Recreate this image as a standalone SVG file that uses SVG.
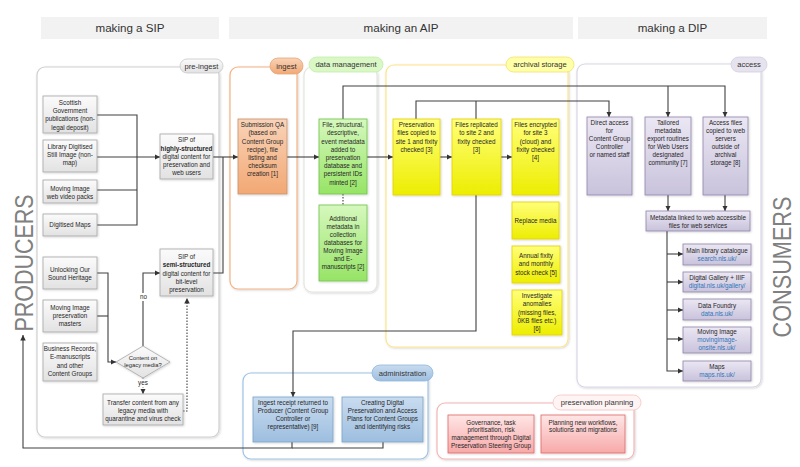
<svg xmlns="http://www.w3.org/2000/svg" width="800" height="467" viewBox="0 0 800 467">
<style>
text{font-family:"Liberation Sans",Arial,sans-serif;fill:#262626}
.t{font-size:6.3px;text-anchor:middle}
.b{font-weight:bold}
.lnk{fill:#2e75b6}
.lab{font-size:7.6px;text-anchor:middle;fill:#333}
.hd{font-size:11.6px;text-anchor:middle;fill:#333}
.big{font-size:25px;text-anchor:middle;fill:#808080}
.hbar{fill:#f2f2f2}
.cont{fill:#fff;stroke-width:1.2;filter:url(#sh)}
.c{fill:none;stroke:#404040;stroke-width:1.1}
.d{stroke-dasharray:1.5,1.5}
.g{fill:url(#gG);stroke:#a6a6a6;stroke-width:0.8;filter:url(#sh)}
.o{fill:url(#gO);stroke:#c9916b;stroke-width:0.8;filter:url(#sh)}
.gr{fill:url(#gGr);stroke:#6fc24a;stroke-width:0.8;filter:url(#sh)}
.y{fill:url(#gY);stroke:#e3cf00;stroke-width:0.8;filter:url(#sh)}
.l{fill:url(#gL);stroke:#8f86a9;stroke-width:0.8;filter:url(#sh)}
.bl{fill:url(#gB);stroke:#7aa2c8;stroke-width:0.8;filter:url(#sh)}
.p{fill:url(#gP);stroke:#e06666;stroke-width:0.8;filter:url(#sh)}
</style>
<defs>
<filter id="sh" x="-10%" y="-10%" width="130%" height="130%"><feDropShadow dx="0.8" dy="0.8" stdDeviation="0.8" flood-color="#000" flood-opacity="0.18"/></filter>
<linearGradient id="gG" x1="0" y1="0" x2="0" y2="1"><stop offset="0" stop-color="#fbfbfb"/><stop offset="1" stop-color="#e2e2e2"/></linearGradient>
<linearGradient id="gO" x1="0" y1="0" x2="0" y2="1"><stop offset="0" stop-color="#f9d3b8"/><stop offset="1" stop-color="#f2a874"/></linearGradient>
<linearGradient id="gGr" x1="0" y1="0" x2="0" y2="1"><stop offset="0" stop-color="#d6f8bd"/><stop offset="1" stop-color="#96e466"/></linearGradient>
<linearGradient id="gY" x1="0" y1="0" x2="0" y2="1"><stop offset="0" stop-color="#ffff7a"/><stop offset="1" stop-color="#eded00"/></linearGradient>
<linearGradient id="gL" x1="0" y1="0" x2="0" y2="1"><stop offset="0" stop-color="#ebe7f3"/><stop offset="1" stop-color="#c9c2dc"/></linearGradient>
<linearGradient id="gB" x1="0" y1="0" x2="0" y2="1"><stop offset="0" stop-color="#c9dcf0"/><stop offset="1" stop-color="#9dbedf"/></linearGradient>
<linearGradient id="gP" x1="0" y1="0" x2="0" y2="1"><stop offset="0" stop-color="#ffe6e6"/><stop offset="1" stop-color="#f7a9a9"/></linearGradient>
<marker id="a" viewBox="0 0 6 6" refX="6" refY="3" markerWidth="5.5" markerHeight="5.5" markerUnits="userSpaceOnUse" orient="auto"><path d="M0,0 L6,3 L0,6 z" fill="#333"/></marker>
</defs>

<rect width="800" height="467" fill="#fff"/>

<g id="headers">
<rect class="hbar" x="41" y="17" width="178" height="22"/>
<text class="hd" x="130" y="32">making a SIP</text>
<rect class="hbar" x="229" y="17" width="344" height="22"/>
<text class="hd" x="401" y="32">making an AIP</text>
<rect class="hbar" x="578" y="17" width="189" height="22"/>
<text class="hd" x="672.5" y="32">making a DIP</text>
</g>

<text class="big" transform="translate(33,263) rotate(-90)" textLength="137" lengthAdjust="spacingAndGlyphs">PRODUCERS</text>
<text class="big" transform="translate(791,267) rotate(-90)" textLength="141" lengthAdjust="spacingAndGlyphs">CONSUMERS</text>

<g id="containers">
<rect class="cont" x="37" y="67" width="182" height="370" rx="8" stroke="#d0d0d0"/>
<rect class="cont" x="230" y="67" width="67" height="222" rx="8" stroke="#f4b183"/>
<rect class="cont" x="304" y="67" width="73" height="225" rx="8" stroke="#e3e6df"/>
<rect class="cont" x="386" y="65" width="182" height="282" rx="8" stroke="#ffe48a"/>
<rect class="cont" x="577" y="64" width="184" height="323" rx="8" stroke="#d9d6e6"/>
<rect class="cont" x="243" y="373" width="185" height="86" rx="8" stroke="#9dc3e6"/>
<rect class="cont" x="437" y="403" width="197" height="56" rx="8" stroke="#f4b6b6"/>
<rect x="180" y="59" width="43" height="14" rx="7" fill="url(#gG)" stroke="#c8c8c8" stroke-width="0.8"/>
<text class="lab" x="201.5" y="68.7">pre-ingest</text>
<rect x="270" y="58" width="33" height="16" rx="8" fill="url(#gO)" stroke="#e6a676" stroke-width="0.8"/>
<text class="lab" x="286.5" y="68.7">ingest</text>
<rect x="309" y="57" width="74" height="15" rx="7.5" fill="#daf7c6" stroke="#c2eea6" stroke-width="0.8"/>
<text class="lab" x="346" y="67.3">data management</text>
<rect x="506" y="57" width="68" height="15" rx="7.5" fill="#ffffa8" stroke="#f3df70" stroke-width="0.8"/>
<text class="lab" x="540" y="67.3">archival storage</text>
<rect x="731" y="57" width="36" height="15" rx="7.5" fill="#e6e3ef" stroke="#d2cee0" stroke-width="0.8"/>
<text class="lab" x="749" y="67.3">access</text>
<rect x="372" y="365" width="61" height="16" rx="8" fill="url(#gB)" stroke="#8fb6dc" stroke-width="0.8"/>
<text class="lab" x="402.5" y="375.7">administration</text>
<rect x="553" y="395" width="88" height="15" rx="7.5" fill="#fff4f4" stroke="#f6c2c2" stroke-width="0.8"/>
<text class="lab" x="597" y="405.3">preservation planning</text>
</g>

<g id="connectors">
<path class="c" d="M97,115 H137 V225 H97"/>
<path class="c" d="M97,190 H137"/>
<path class="c" d="M97,157 H160" marker-end="url(#a)"/>
<path class="c" d="M213,157 H238" marker-end="url(#a)"/>
<path class="c" d="M213,273 H223 V157"/>
<path class="c" d="M97,273 H108 V362 H116" marker-end="url(#a)"/>
<path class="c" d="M97,316 H108"/>
<path class="c" d="M143,346 V273 H160" marker-end="url(#a)"/>
<path class="c d" d="M143,377 V394" marker-end="url(#a)"/>
<path class="c d" d="M183,411 H187 V298" marker-end="url(#a)"/>
<path class="c" d="M287,157 H319" marker-end="url(#a)"/>
<path class="c d" d="M343,194 V205"/>
<path class="c" d="M367,157 H393" marker-end="url(#a)"/>
<path class="c" d="M440,157 H452" marker-end="url(#a)"/>
<path class="c" d="M501,157 H512" marker-end="url(#a)"/>
<path class="c" d="M343,119 V86 H725 V117" marker-end="url(#a)"/>
<path class="c" d="M668,86 V117" marker-end="url(#a)"/>
<path class="c" d="M416,119 V101 H609 V117" marker-end="url(#a)"/>
<path class="c" d="M476,119 V101"/>
<path class="c" d="M668,195 V211" marker-end="url(#a)"/>
<path class="c" d="M725,195 V211" marker-end="url(#a)"/>
<path class="c" d="M667,231 V371 H683" marker-end="url(#a)"/>
<path class="c" d="M667,254 H683" marker-end="url(#a)"/>
<path class="c" d="M667,282 H683" marker-end="url(#a)"/>
<path class="c" d="M667,310 H683" marker-end="url(#a)"/>
<path class="c" d="M667,339 H683" marker-end="url(#a)"/>
<path class="c" d="M476,195 V331 H293 V397" marker-end="url(#a)"/>
<path class="c" d="M292,442 V448 H23 V335" marker-end="url(#a)"/>
<path class="c" d="M383,442 V448 H292"/>
<rect x="138" y="293" width="11" height="8" fill="#fff"/>
<text class="t" x="143.5" y="299.3">no</text>
<rect x="137" y="379" width="12" height="8" fill="#fff"/>
<text class="t" x="143" y="385.3">yes</text>
</g>

<g id="n-scottish"><rect class="g" x="43" y="96" width="54" height="37"/>
<text class="t" x="70"><tspan x="70" y="105">Scottish</tspan><tspan x="70" y="113.2">Government</tspan><tspan x="70" y="121.4">publications (non-</tspan><tspan x="70" y="129.6">legal deposit)</tspan></text></g>
<g id="n-library"><rect class="g" x="43" y="140" width="54" height="32"/>
<text class="t"><tspan x="70" y="149">Library Digitised</tspan><tspan x="70" y="157.2">Still Image (non-</tspan><tspan x="70" y="165.4">map)</tspan></text></g>
<g id="n-webvideo"><rect class="g" x="43" y="180" width="54" height="23"/>
<text class="t"><tspan x="70" y="190.6">Moving Image</tspan><tspan x="70" y="198.8">web video packs</tspan></text></g>
<g id="n-maps"><rect class="g" x="43" y="214" width="54" height="22"/>
<text class="t" x="70" y="227.3">Digitised Maps</text></g>
<g id="n-sip-high"><rect class="g" x="160" y="134" width="53" height="45"/>
<text class="t"><tspan x="186.5" y="142.3">SIP of</tspan><tspan x="186.5" y="150.5" class="b">highly-structured</tspan><tspan x="186.5" y="158.8">digital content for</tspan><tspan x="186.5" y="167">preservation and</tspan><tspan x="186.5" y="175.3">web users</tspan></text></g>
<g id="n-sound"><rect class="g" x="43" y="257" width="54" height="32"/>
<text class="t"><tspan x="70" y="271.5">Unlocking Our</tspan><tspan x="70" y="279.7">Sound Heritage</tspan></text></g>
<g id="n-mi-masters"><rect class="g" x="43" y="300" width="54" height="32"/>
<text class="t"><tspan x="70" y="310">Moving Image</tspan><tspan x="70" y="318.2">preservation</tspan><tspan x="70" y="326.4">masters</tspan></text></g>
<g id="n-business"><rect class="g" x="43" y="343" width="54" height="38"/>
<text class="t"><tspan x="70" y="351">Business Records,</tspan><tspan x="70" y="359.3">E-manuscripts</tspan><tspan x="70" y="367.6">and other</tspan><tspan x="70" y="375.9">Content Groups</tspan></text></g>
<g id="n-sip-semi"><rect class="g" x="160" y="249" width="53" height="47"/>
<text class="t"><tspan x="186.5" y="259">SIP of</tspan><tspan x="186.5" y="267.2" class="b">semi-structured</tspan><tspan x="186.5" y="275.5">digital content for</tspan><tspan x="186.5" y="283.8">bit-level</tspan><tspan x="186.5" y="292">preservation</tspan></text></g>
<g id="n-legacy"><path class="g" d="M143,346 L170,362 L143,378 L116,362 Z"/>
<text class="t" style="font-size:5.8px"><tspan x="143" y="360.3">Content on</tspan><tspan x="143" y="367.3">legacy media?</tspan></text></g>
<g id="n-transfer"><rect class="g" x="103" y="394" width="80" height="31"/>
<text class="t"><tspan x="143" y="404.5">Transfer content from any</tspan><tspan x="143" y="412.6">legacy media with</tspan><tspan x="143" y="420.7">quarantine and virus check</tspan></text></g>

<g id="n-qa"><rect class="o" x="238" y="119" width="49" height="75"/>
<text class="t"><tspan x="262.5" y="127.2">Submission QA</tspan><tspan x="262.5" y="135.4">(based on</tspan><tspan x="262.5" y="143.6">Content Group</tspan><tspan x="262.5" y="151.8">recipe), file</tspan><tspan x="262.5" y="160">listing and</tspan><tspan x="262.5" y="168.2">checksum</tspan><tspan x="262.5" y="176.4">creation [1]</tspan></text></g>

<g id="n-metadata"><rect class="gr" x="319" y="119" width="48" height="75"/>
<text class="t"><tspan x="343" y="127.2">File, structural,</tspan><tspan x="343" y="135.4">descriptive,</tspan><tspan x="343" y="143.6">event metadata</tspan><tspan x="343" y="151.8">added to</tspan><tspan x="343" y="160">preservation</tspan><tspan x="343" y="168.2">database and</tspan><tspan x="343" y="176.4">persistent IDs</tspan><tspan x="343" y="184.6">minted [2]</tspan></text></g>
<g id="n-additional"><rect class="gr" x="319" y="205" width="48" height="76"/>
<text class="t"><tspan x="343" y="220.5">Additional</tspan><tspan x="343" y="228.6">metadata in</tspan><tspan x="343" y="236.7">collection</tspan><tspan x="343" y="244.8">databases for</tspan><tspan x="343" y="252.9">Moving Image</tspan><tspan x="343" y="261">and E-</tspan><tspan x="343" y="269.1">manuscripts [2]</tspan></text></g>

<g id="n-site1"><rect class="y" x="393" y="119" width="47" height="76"/>
<text class="t"><tspan x="416.5" y="127.2">Preservation</tspan><tspan x="416.5" y="135.4">files copied to</tspan><tspan x="416.5" y="143.6">site 1 and fixity</tspan><tspan x="416.5" y="151.8">checked [3]</tspan></text></g>
<g id="n-site2"><rect class="y" x="452" y="119" width="49" height="76"/>
<text class="t"><tspan x="476.5" y="127.2">Files replicated</tspan><tspan x="476.5" y="135.4">to site 2 and</tspan><tspan x="476.5" y="143.6">fixity checked</tspan><tspan x="476.5" y="151.8">[3]</tspan></text></g>
<g id="n-site3"><rect class="y" x="512" y="119" width="47" height="76"/>
<text class="t"><tspan x="535.5" y="127.2">Files encrypted</tspan><tspan x="535.5" y="135.4">for site 3</tspan><tspan x="535.5" y="143.6">(cloud) and</tspan><tspan x="535.5" y="151.8">fixity checked</tspan><tspan x="535.5" y="160">[4]</tspan></text></g>
<g id="n-replace"><rect class="y" x="512" y="202" width="47" height="37"/>
<text class="t" x="535.5" y="222.8">Replace media</text></g>
<g id="n-annual"><rect class="y" x="512" y="246" width="48" height="37"/>
<text class="t"><tspan x="536" y="258.2">Annual fixity</tspan><tspan x="536" y="266.4">and monthly</tspan><tspan x="536" y="274.6">stock check [5]</tspan></text></g>
<g id="n-anomalies"><rect class="y" x="512" y="290" width="50" height="45"/>
<text class="t"><tspan x="537" y="298.2">Investigate</tspan><tspan x="537" y="306.4">anomalies</tspan><tspan x="537" y="314.6">(missing files,</tspan><tspan x="537" y="322.8">0KB files etc.)</tspan><tspan x="537" y="331">[6]</tspan></text></g>

<g id="n-direct"><rect class="l" x="587" y="117" width="45" height="78"/>
<text class="t"><tspan x="609.5" y="124.6">Direct access</tspan><tspan x="609.5" y="132.7">for</tspan><tspan x="609.5" y="140.8">Content Group</tspan><tspan x="609.5" y="148.9">Controller</tspan><tspan x="609.5" y="157">or named staff</tspan></text></g>
<g id="n-tailored"><rect class="l" x="645" y="117" width="46" height="78"/>
<text class="t"><tspan x="668" y="124.6">Tailored</tspan><tspan x="668" y="132.7">metadata</tspan><tspan x="668" y="140.8">export routines</tspan><tspan x="668" y="148.9">for Web Users</tspan><tspan x="668" y="157">designated</tspan><tspan x="668" y="165.1">community [7]</tspan></text></g>
<g id="n-accessfiles"><rect class="l" x="703" y="117" width="45" height="78"/>
<text class="t"><tspan x="725.5" y="124.6">Access files</tspan><tspan x="725.5" y="132.7">copied to web</tspan><tspan x="725.5" y="140.8">servers</tspan><tspan x="725.5" y="148.9">outside of</tspan><tspan x="725.5" y="157">archival</tspan><tspan x="725.5" y="165.1">storage [8]</tspan></text></g>
<g id="n-linked"><rect class="l" x="646" y="211" width="104" height="20"/>
<text class="t"><tspan x="698" y="219.5">Metadata linked to web accessible</tspan><tspan x="698" y="227.7">files for web services</tspan></text></g>
<g id="n-catalogue"><rect class="l" x="683" y="244" width="68" height="21"/>
<text class="t"><tspan x="717" y="253.2">Main library catalogue</tspan><tspan x="717" y="261.2" class="lnk">search.nls.uk/</tspan></text></g>
<g id="n-gallery"><rect class="l" x="683" y="272" width="68" height="20"/>
<text class="t"><tspan x="717" y="280">Digital Gallery + IIIF</tspan><tspan x="717" y="288" class="lnk">digital.nls.uk/gallery/</tspan></text></g>
<g id="n-foundry"><rect class="l" x="683" y="299" width="68" height="21"/>
<text class="t"><tspan x="717" y="308">Data Foundry</tspan><tspan x="717" y="315.8" class="lnk">data.nls.uk/</tspan></text></g>
<g id="n-movingimage"><rect class="l" x="683" y="327" width="68" height="26"/>
<text class="t"><tspan x="717" y="334">Moving Image</tspan><tspan x="717" y="342.2" class="lnk">movingimage-</tspan><tspan x="717" y="350" class="lnk">onsite.nls.uk/</tspan></text></g>
<g id="n-mapsweb"><rect class="l" x="683" y="361" width="68" height="20"/>
<text class="t"><tspan x="717" y="369">Maps</tspan><tspan x="717" y="377" class="lnk">maps.nls.uk/</tspan></text></g>

<g id="n-receipt"><rect class="bl" x="253" y="397" width="80" height="45"/>
<text class="t"><tspan x="293" y="405">Ingest receipt returned to</tspan><tspan x="293" y="413">Producer (Content Group</tspan><tspan x="293" y="421">Controller or</tspan><tspan x="293" y="429">representative) [9]</tspan></text></g>
<g id="n-plans"><rect class="bl" x="342" y="397" width="81" height="45"/>
<text class="t"><tspan x="382.5" y="405">Creating Digital</tspan><tspan x="382.5" y="413">Preservation and Access</tspan><tspan x="382.5" y="421">Plans for Content Groups</tspan><tspan x="382.5" y="429">and identifying risks</tspan></text></g>

<g id="n-governance"><rect class="p" x="448" y="415" width="86" height="38"/>
<text class="t"><tspan x="491" y="424.5">Governance, task</tspan><tspan x="491" y="432.3">prioritisation, risk</tspan><tspan x="491" y="440.1">management through Digital</tspan><tspan x="491" y="447.9">Preservation Steering Group</tspan></text></g>
<g id="n-planning"><rect class="p" x="541" y="415" width="84" height="38"/>
<text class="t"><tspan x="583" y="424.5">Planning new workflows,</tspan><tspan x="583" y="432.3">solutions and migrations</tspan></text></g>
</svg>
